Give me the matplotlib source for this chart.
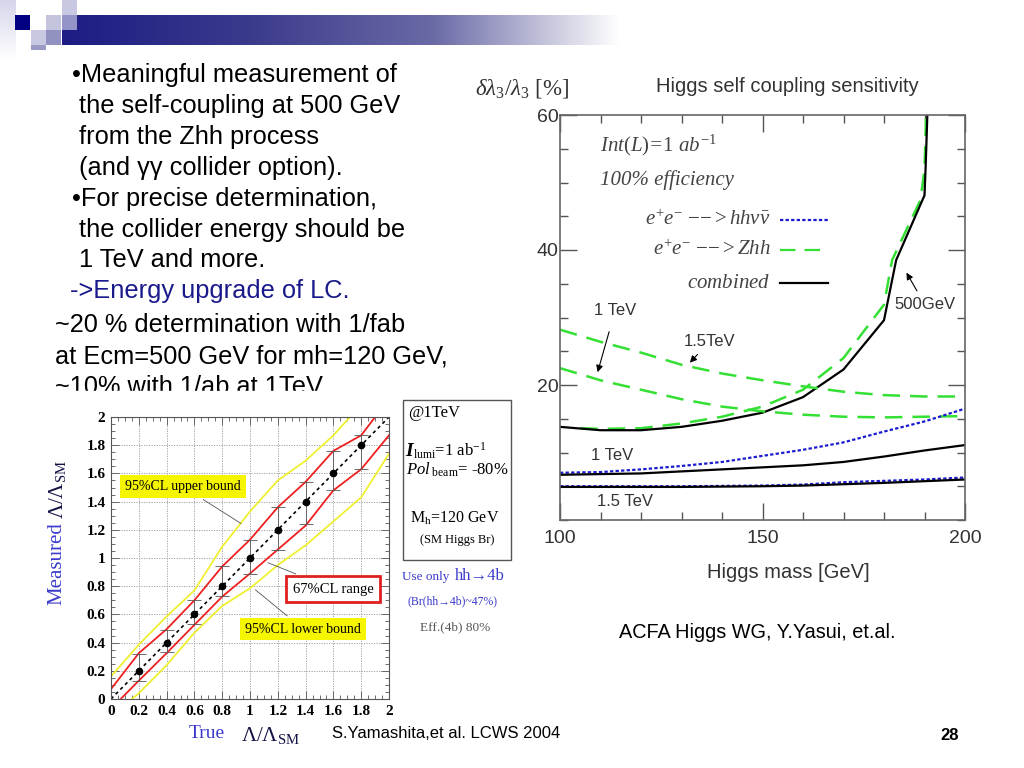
import matplotlib
matplotlib.use("Agg")
import matplotlib.pyplot as plt
import matplotlib.patches as patches
import numpy as np

plt.rcParams['font.family'] = ['Liberation Sans', 'DejaVu Sans']
plt.rcParams['mathtext.fontset'] = 'custom'
plt.rcParams['mathtext.rm'] = 'Liberation Serif'
plt.rcParams['mathtext.it'] = 'Liberation Serif:italic'
plt.rcParams['mathtext.bf'] = 'Liberation Serif:bold'

# ---- right chart: Higgs self coupling sensitivity ----
mh_zhh500 = [105, 110, 120, 130, 140, 150, 160, 170, 180, 182, 189, 190, 190.4]
zhh500 = [13.6, 13.5, 13.6, 14.3, 15.3, 16.8, 19.3, 24.0, 31.9, 38.5, 47.4, 51.9, 60]
mh_comb500 = [100, 110, 120, 130, 140, 150, 160, 170, 180, 183, 190, 190.3, 190.7]
comb500 = [13.8, 13.3, 13.3, 13.8, 14.7, 15.9, 18.2, 22.3, 29.6, 38.5, 48.1, 52.6, 60]

mh = [100, 110, 120, 130, 140, 150, 160, 170, 180, 190, 200]
zhh1000 = [22.5, 20.7, 19.3, 17.9, 16.8, 16.1, 15.6, 15.3, 15.2, 15.3, 15.4]
zhh1500 = [28.2, 26.4, 24.8, 23.0, 21.7, 20.7, 19.8, 19.0, 18.5, 18.3, 18.3]
hhvv1000 = [7.0, 7.1, 7.5, 8.0, 8.6, 9.5, 10.4, 11.5, 13.1, 14.6, 16.5]
comb1000 = [6.7, 6.8, 6.9, 7.2, 7.5, 7.8, 8.1, 8.6, 9.4, 10.3, 11.1]
hhvv1500 = [5.0, 5.0, 5.0, 5.0, 5.05, 5.1, 5.25, 5.6, 5.8, 6.0, 6.3]
comb1500 = [4.9, 4.9, 4.9, 4.9, 4.95, 5.0, 5.1, 5.3, 5.5, 5.75, 6.0]

# ---- left chart: measured vs true lambda ----
true_pts = [0.2, 0.4, 0.6, 0.8, 1.0, 1.2, 1.4, 1.6, 1.8]
meas_pts = [0.2, 0.4, 0.6, 0.8, 1.0, 1.2, 1.4, 1.6, 1.8]
err_lo = [0.13, 0.33, 0.53, 0.73, 0.89, 1.06, 1.24, 1.48, 1.63]
err_hi = [0.32, 0.49, 0.70, 0.94, 1.13, 1.36, 1.54, 1.76, 1.87]

red_up_x = [0, 0.2, 0.4, 0.6, 0.8, 1.0, 1.2, 1.4, 1.6, 1.8, 1.9]
red_up_y = [0.07, 0.325, 0.495, 0.70, 0.94, 1.13, 1.36, 1.54, 1.76, 1.87, 2.0]
red_lo_x = [0.07, 0.2, 0.4, 0.6, 0.8, 1.0, 1.2, 1.4, 1.6, 1.8, 2.0]
red_lo_y = [0.0, 0.13, 0.325, 0.526, 0.726, 0.89, 1.06, 1.23, 1.48, 1.63, 1.87]
yel_up_x = [0, 0.2, 0.4, 0.6, 0.8, 1.0, 1.2, 1.4, 1.6, 1.72]
yel_up_y = [0.16, 0.385, 0.585, 0.77, 1.08, 1.33, 1.55, 1.69, 1.87, 2.0]
yel_lo_x = [0.15, 0.2, 0.4, 0.6, 0.8, 1.0, 1.2, 1.4, 1.6, 1.8, 2.0]
yel_lo_y = [0.0, 0.04, 0.24, 0.47, 0.66, 0.785, 0.95, 1.09, 1.26, 1.43, 1.74]

slide_lines = ["\u2022Meaningful measurement of",
               " the self-coupling at 500 GeV",
               " from the Zhh process",
               " (and \u03b3\u03b3 collider option).",
               "\u2022For precise determination,",
               " the collider energy should be",
               " 1 TeV and more."]

W, H = 1024, 768
fig = plt.figure(figsize=(10.24, 7.68), dpi=100)


def fx(x):
    return x / W


def fy(y):
    return 1 - y / H


# top-left decoration
deco = fig.add_axes([0, 0, 1, 1], zorder=-5)
deco.axis('off')
grad = np.linspace(0, 1, 256)
cmap = matplotlib.colors.LinearSegmentedColormap.from_list(
    'band', ['#1c1c84', '#3a3a8c', '#6a6aa6', '#ffffff'])
deco.imshow(grad[None, :], extent=[62, 620, 45, 15], cmap=cmap, aspect='auto')
side = matplotlib.colors.LinearSegmentedColormap.from_list('side', ['#d6d6ec', '#ffffff'])
deco.imshow(grad[:, None], extent=[0, 16, 60, 0], cmap=side, aspect='auto')
for (x0, y0, c) in [(62, 0, '#c8c8e2'), (15, 15, '#000080'), (46, 15, '#c4c4de'),
                    (62, 15, '#9494c8'), (31, 30, '#c8c8e2'), (46, 30, '#9292c2'),
                    (31, 45, '#9a9ac4')]:
    hgt = 15 if y0 < 45 else 5
    deco.add_patch(patches.Rectangle((x0, y0), 15, hgt, color=c, lw=0))
deco.set_xlim(0, W)
deco.set_ylim(H, 0)

# slide text
for i, s in enumerate(slide_lines):
    fig.text(fx(72), fy(75 + i * 30.9), s, fontsize=18.3, va='center', ha='left')
fig.text(fx(70), fy(291), "->Energy upgrade of LC.", fontsize=18.3, va='center',
         color='#1a1a8c')
for i, s in enumerate(["~20 % determination with 1/fab",
                       "at Ecm=500 GeV for mh=120 GeV,",
                       "~10% with 1/ab at 1TeV"]):
    fig.text(fx(55), fy(325 + i * 31), s, fontsize=18.3, va='center', ha='left', zorder=1)

# white background of the embedded left figure (hides the end of the last line)
fig.patches.append(patches.Rectangle((fx(45), fy(752)), fx(355), 361 / H,
                                     transform=fig.transFigure, color='white',
                                     zorder=2))

# ---------------- right chart ----------------
ax = fig.add_axes([fx(560), fy(520), 405 / W, 405 / H], zorder=3)
gray = '#333333'
blue = '#1a1ad0'
green = '#33e033'
dash = (0, (7, 4))
dot = (0, (1.5, 1))
ax.plot(mh_zhh500, zhh500, color=green, lw=1.8, ls=dash)
ax.plot(mh_comb500, comb500, color='black', lw=1.6)
ax.plot(mh, zhh1000, color=green, lw=1.8, ls=dash)
ax.plot(mh, zhh1500, color=green, lw=1.8, ls=dash)
ax.plot(mh, hhvv1000, color=blue, lw=1.6, ls=dot)
ax.plot(mh, comb1000, color='black', lw=1.6)
ax.plot(mh, hhvv1500, color=blue, lw=1.6, ls=dot)
ax.plot(mh, comb1500, color='black', lw=1.6)
ax.set_xlim(100, 200)
ax.set_ylim(0, 60)
ax.set_xticks([100, 150, 200])
ax.set_xticks(np.arange(100, 201, 10), minor=True)
ax.set_yticks([20, 40, 60])
ax.set_yticks(np.arange(0, 61, 5), minor=True)
ax.tick_params(which='both', direction='in', top=True, right=True, colors='#555555',
               labelcolor=gray, labelsize=14)
ax.tick_params(which='major', length=12, width=1)
ax.tick_params(which='minor', length=6, width=1)
ax.tick_params(axis='x', pad=7)
ax.tick_params(axis='y', pad=1)
for sp in ax.spines.values():
    sp.set_color('#666666')
    sp.set_linewidth(1.2)

serif = ['Liberation Serif', 'DejaVu Serif']
ax.text(0.1, 0.925, r'$Int(L)$=$1\ ab^{-1}$', transform=ax.transAxes, fontsize=15,
        color='#444444', family=serif, style='italic', va='center')
ax.text(0.1, 0.84, '100% efficiency', transform=ax.transAxes, fontsize=15,
        color='#444444', family=serif, style='italic', va='center')
leg = [(r'$e^{+}e^{-}\ {-}{-}{>}hh\nu\bar{\nu}$', blue, dot, 0.741),
       (r'$e^{+}e^{-}\ {-}{-}{>}Zhh$', green, dash, 0.667),
       (r'$combined$', 'black', '-', 0.585)]
for lab, c, ls, yy in leg:
    ax.text(0.52, yy, lab, transform=ax.transAxes, fontsize=15, color='#444444',
            family=serif, style='italic', ha='right', va='center')
    ax.plot([0.543, 0.662], [yy, yy], transform=ax.transAxes, color=c, ls=ls, lw=1.6)

arrow = dict(arrowstyle='-|>', color='black', lw=0.8, mutation_scale=10)
ax.annotate('1 TeV', xy=(109.1, 21.5), xytext=(113.6, 31), fontsize=12, color=gray,
            ha='center', va='center', arrowprops=dict(arrow, shrinkA=8))
ax.annotate('1.5TeV', xy=(131.6, 23.0), xytext=(137, 26.5), fontsize=12, color=gray,
            ha='center', va='center', arrowprops=dict(arrow, shrinkA=3))
ax.annotate('500GeV', xy=(185.2, 37.0), xytext=(190.1, 31.9), fontsize=12, color=gray,
            ha='center', va='center', arrowprops=dict(arrow, shrinkA=3))
ax.text(112.8, 9.5, '1 TeV', fontsize=12, color=gray, ha='center', va='center')
ax.text(116, 2.7, '1.5 TeV', fontsize=12, color=gray, ha='center', va='center')

fig.text(fx(522), fy(88), r'$\delta\lambda_{3}/\lambda_{3}\ [\%]$', fontsize=16.5,
         color=gray, ha='center', va='center')
fig.text(fx(787), fy(86), 'Higgs self coupling sensitivity', fontsize=14.5, color=gray,
         ha='center', va='center')
fig.text(fx(788), fy(573), 'Higgs mass [GeV]', fontsize=14.5, color=gray,
         ha='center', va='center')
fig.text(fx(757), fy(633), 'ACFA Higgs WG, Y.Yasui, et.al.', fontsize=14.3,
         ha='center', va='center')

# ---------------- left chart ----------------
bx = fig.add_axes([fx(111), fy(699), 278 / W, 282 / H], zorder=4)
bx.set_facecolor('white')
bx.plot([0, 2], [0, 2], color='black', ls=(0, (2, 2)), lw=1.2)
bx.plot(red_up_x, red_up_y, color='#ee2020', lw=1.3)
bx.plot(red_lo_x, red_lo_y, color='#ee2020', lw=1.3)
bx.plot(yel_up_x, yel_up_y, color='#f0f030', lw=1.3)
bx.plot(yel_lo_x, yel_lo_y, color='#f0f030', lw=1.3)
yerr = [np.array(meas_pts) - np.array(err_lo), np.array(err_hi) - np.array(meas_pts)]
bx.errorbar(true_pts, meas_pts, yerr=yerr, fmt='o', color='black', ms=4.5,
            ecolor='#555555', elinewidth=0.6, capsize=5, capthick=0.6)
bx.set_xlim(0, 2)
bx.set_ylim(0, 2)
ticks = np.round(np.arange(0, 2.01, 0.2), 1)
ticklabs = ['0' if t == 0 else ('1' if t == 1 else ('2' if t == 2 else f'{t:.1f}'))
            for t in ticks]
bx.set_xticks(ticks)
bx.set_xticklabels(ticklabs)
bx.set_yticks(ticks)
bx.set_yticklabels(ticklabs)
bx.set_xticks(np.arange(0, 2.01, 0.05), minor=True)
bx.set_yticks(np.arange(0, 2.01, 0.05), minor=True)
bx.grid(True, which='major', color='#999999', ls=(0, (1.5, 1.5)), lw=0.6)
bx.tick_params(which='both', direction='in', top=True, right=True, color='#555555')
bx.tick_params(which='major', length=6, width=0.6, labelsize=11, pad=4)
bx.tick_params(which='minor', length=3, width=0.6)
for lab in bx.get_xticklabels() + bx.get_yticklabels():
    lab.set_fontfamily(serif)
    lab.set_fontweight('bold')
for sp in bx.spines.values():
    sp.set_color('#555555')
    sp.set_linewidth(0.8)

line = dict(arrowstyle='-', color='#555555', lw=0.6)
bx.annotate('95%CL upper bound', xy=(0.953, 1.234), xytext=(0.517, 1.506),
            fontsize=10, family=serif, ha='center', va='center',
            bbox=dict(boxstyle='square,pad=0.35', fc='#f5f500', ec='none'),
            arrowprops=line)
bx.annotate('67%CL range', xy=(1.11, 0.974), xytext=(1.6, 0.78),
            fontsize=10.5, family=serif, ha='center', va='center',
            bbox=dict(boxstyle='square,pad=0.45', fc='white', ec='#e02020', lw=2),
            arrowprops=line)
bx.annotate('95%CL lower bound', xy=(1.023, 0.787), xytext=(1.383, 0.496),
            fontsize=10, family=serif, ha='center', va='center',
            bbox=dict(boxstyle='square,pad=0.35', fc='#f5f500', ec='none'),
            arrowprops=line)

lblue = '#3a3acc'
fig.text(fx(57), fy(564), 'Measured', rotation=90, fontsize=15, color=lblue,
         family=serif, ha='center', va='center', zorder=5)
fig.text(fx(57), fy(490), r'$\Lambda/\Lambda_{\rm SM}$', rotation=90, fontsize=15,
         color='#111144', ha='center', va='center', zorder=5)
fig.text(fx(207), fy(733), 'True', fontsize=14, color=lblue, family=serif,
         ha='center', va='center', zorder=5)
fig.text(fx(270), fy(735), r'$\Lambda/\Lambda_{\rm SM}$', fontsize=15,
         color='#111144', ha='center', va='center', zorder=5)

# @1TeV info box
fig.patches.append(patches.Rectangle((fx(403), fy(560)), 108 / W, 160 / H,
                                     transform=fig.transFigure, fc='white',
                                     ec='#555555', lw=1, zorder=3))
fig.text(fx(408), fy(413), '@1TeV', fontsize=12, family=serif, va='center', zorder=5)
fig.text(fx(405), fy(451), 'I', fontsize=14, family=serif, fontweight='bold',
         style='italic', va='center', zorder=5)
fig.text(fx(413), fy(451), r'$_{\rm lumi}$=1 ab$^{-1}$',
         fontsize=12, family=serif, va='center', zorder=5)
fig.text(fx(406), fy(470), r'$Pol_{\rm\ beam}$= -80%', fontsize=12, family=serif,
         va='center', zorder=5)
fig.text(fx(410), fy(518), r'M$_{\rm h}$=120 GeV', fontsize=11.5, family=serif,
         va='center', zorder=5)
fig.text(fx(457), fy(540), '(SM Higgs Br)', fontsize=9, family=serif, ha='center',
         va='center', zorder=5)
fig.text(fx(402), fy(577), 'Use only', fontsize=9.5, family=serif, color=lblue,
         va='center', zorder=5)
fig.text(fx(455), fy(576), 'hh\u21924b', fontsize=12, family=serif, color=lblue,
         va='center', zorder=5)
fig.text(fx(453), fy(601), '(Br(hh\u21924b)~47%)', fontsize=8.5, family=serif,
         color=lblue, ha='center', va='center', zorder=5)
fig.text(fx(455), fy(627), 'Eff.(4b) 80%', fontsize=9.5, family=serif, color='#555555',
         ha='center', va='center', zorder=5)

# footer
fig.text(fx(446), fy(733), 'S.Yamashita,et al. LCWS 2004', fontsize=12, ha='center',
         va='center', zorder=5)
fig.text(fx(950), fy(736), '28', fontsize=12, fontweight='bold', ha='center',
         va='center', zorder=5)

fig.savefig('out.png', dpi=100)
